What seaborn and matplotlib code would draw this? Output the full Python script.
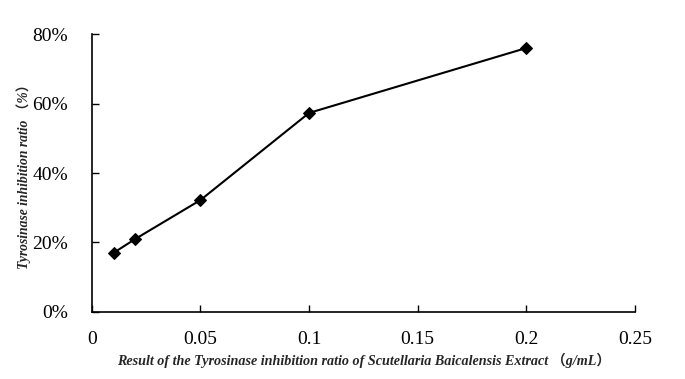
import matplotlib
matplotlib.use('Agg')
import matplotlib.pyplot as plt
import seaborn as sns
import pandas as pd
from matplotlib.ticker import FuncFormatter

# data
concentration = [0.01, 0.02, 0.05, 0.1, 0.2]
inhibition = [17.0, 21.0, 32.2, 57.3, 76.0]

x_ticks = [0, 0.05, 0.1, 0.15, 0.2, 0.25]
x_tick_labels = ['0', '0.05', '0.1', '0.15', '0.2', '0.25']
y_ticks = [0, 20, 40, 60, 80]

df = pd.DataFrame({'conc': concentration, 'ratio': inhibition})

sns.set_style('white')
plt.rcParams['font.family'] = ['Liberation Serif', 'Noto Sans CJK SC']

fig = plt.figure(figsize=(6.85, 3.79), dpi=100)
ax = fig.add_axes([0.134, 0.177, 0.793, 0.733])

sns.lineplot(data=df, x='conc', y='ratio', ax=ax, color='black',
             linewidth=1.5, marker='D', markersize=6.5,
             markerfacecolor='black', markeredgecolor='black')

ax.set_xlim(0, 0.25)
ax.set_ylim(0, 80)
ax.set_xticks(x_ticks)
ax.set_xticklabels(x_tick_labels)
ax.set_yticks(y_ticks)
ax.yaxis.set_major_formatter(FuncFormatter(lambda v, p: f'{v:.0f}%'))

ax.tick_params(axis='both', direction='in', length=5, width=1,
               labelsize=14, colors='black', bottom=True, left=True)
ax.tick_params(axis='y', pad=17)
ax.tick_params(axis='x', pad=14)

for side in ['top', 'right']:
    ax.spines[side].set_visible(False)
for side in ['left', 'bottom']:
    ax.spines[side].set_color('black')
    ax.spines[side].set_linewidth(1.2)

ax.set_xlabel('Result of the Tyrosinase inhibition ratio of Scutellaria Baicalensis Extract （g/mL）',
              fontsize=10.2, fontweight='bold', fontstyle='italic', labelpad=3)
ax.set_ylabel('Tyrosinase inhibition ratio （%）',
              fontsize=9.8, fontweight='bold', fontstyle='italic', labelpad=1)

fig.savefig('out.png', dpi=100)
